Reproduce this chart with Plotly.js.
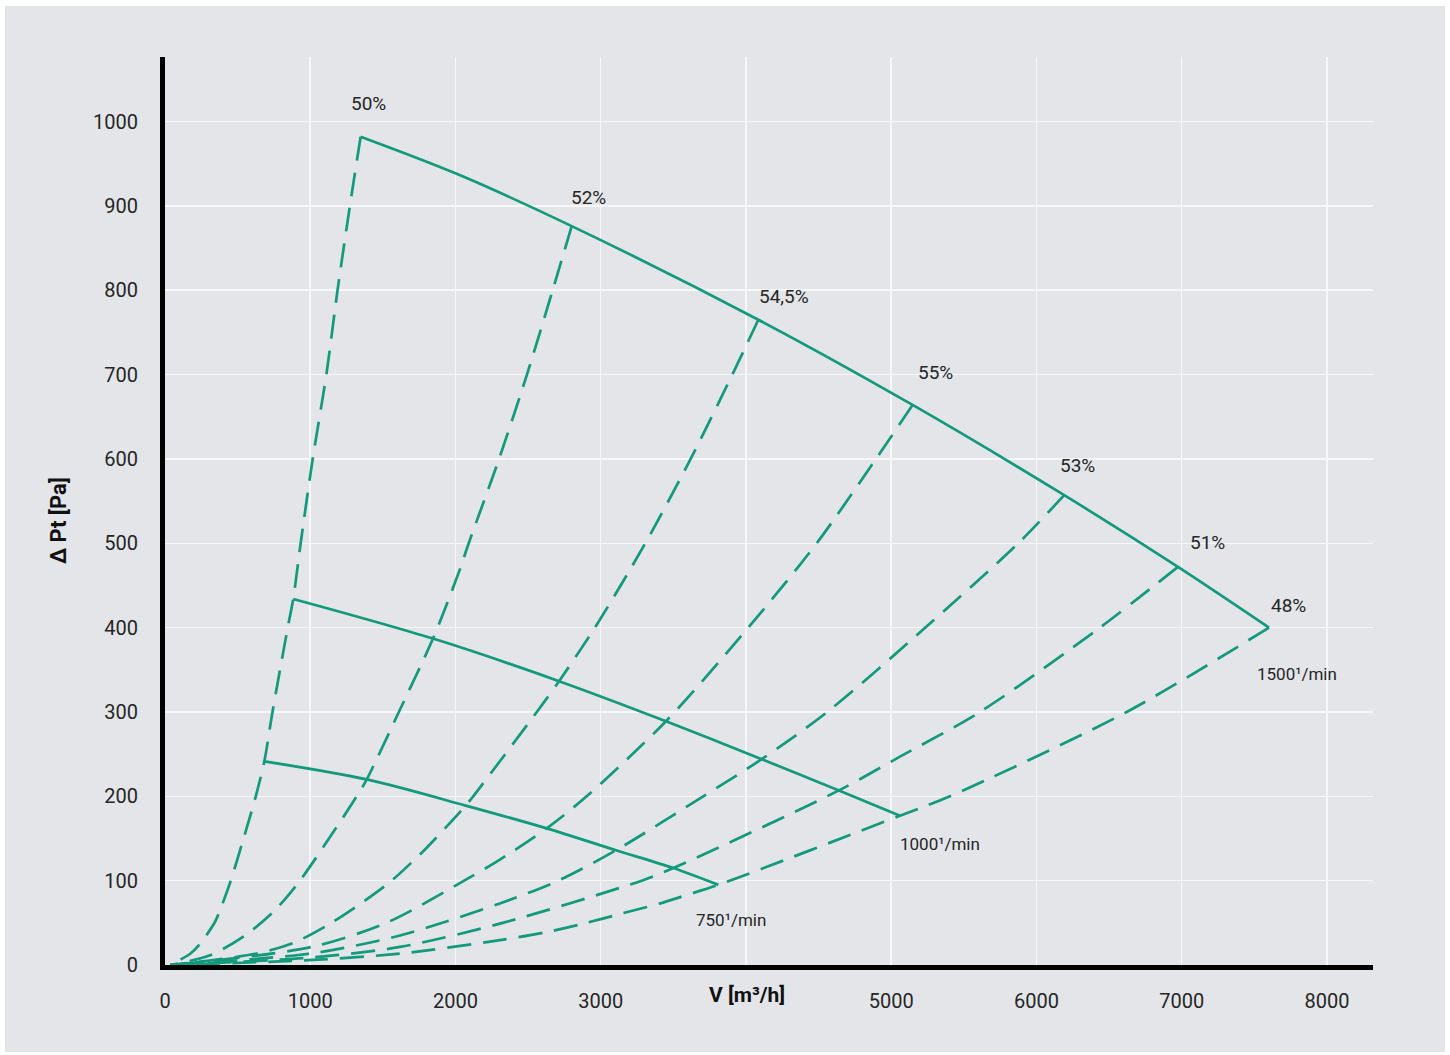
<!DOCTYPE html>
<html><head><meta charset="utf-8">
<script src="https://cdn.plot.ly/plotly-3.0.1.min.js"></script>
<style>
html,body{margin:0;padding:0;background:#ffffff;width:1450px;height:1055px;overflow:hidden}
#chart{position:absolute;left:5px;top:6px;width:1440px;height:1046px}
</style></head><body><div id="chart"></div>
<script>
// ---- data ----
const efficiencyLabels = ['50%', '52%', '54,5%', '55%', '53%', '51%', '48%'];

const sys50X = [35, 57, 172, 241, 344, 379, 447, 558, 625, 684, 740, 845, 883, 934, 1017, 1111, 1188, 1273, 1347];
const sys50Y = [0, 2, 13, 25, 51, 65, 97, 160, 200, 241.5, 300, 400, 434, 500, 600, 700, 800, 900, 982];

const sys52X = [35, 310, 551, 757, 929, 1320, 1389, 1610, 1845, 2026, 2091, 2300, 2492, 2669, 2800];
const sys52Y = [0, 11.5, 35, 65, 100, 200, 220, 300, 387, 467, 500, 600, 700, 800, 876];

const sys545X = [35, 631, 895, 1136, 1365, 1560, 1790, 2070, 2122, 2560, 2713, 2960, 3307, 3619, 3906, 4085];
const sys545Y = [0, 13.5, 27, 49, 75, 100, 137, 189, 200, 300, 336.5, 400, 500, 600, 700, 765];

const sys55X = [35, 1010, 1537, 2060, 2306, 2628, 2903, 3449, 4016, 4487, 4895, 5147];
const sys55Y = [0, 21.4, 51, 100, 125, 162, 200, 289, 400, 500, 600, 664];

const sys53X = [35, 1019, 1618, 2306, 2708, 3105, 3706, 4108, 4560, 5235, 5875, 6191];
const sys53Y = [0, 14, 35, 73, 100, 136, 200, 244, 300, 400, 500, 557];

const sys51X = [35, 1019, 1618, 2306, 3282, 3500, 4640, 5060, 5611, 6437, 6974];
const sys51Y = [0, 9, 21.4, 49, 100, 115, 207, 247, 300, 400, 472];

const sys48X = [35, 1019, 1618, 2306, 2628, 2880, 3144, 3408, 3591, 3810, 5060, 5404, 6621, 7601];
const sys48Y = [0, 6, 13.5, 29.4, 39, 49, 61, 73, 83, 95, 177, 200, 300, 400];

const speedLabels = ['1500¹/min', '1000¹/min', '750¹/min'];
const rpm1500X = [1347, 2008, 2800, 4085, 5147, 6191, 6974, 7601];
const rpm1500Y = [982, 938, 876, 765, 664, 557, 472, 400];
const rpm1000X = [883, 1845, 2713, 3449, 4108, 4640, 5060];
const rpm1000Y = [434, 387, 336.5, 289, 244, 207, 177];
const rpm750X = [684, 1389, 2070, 2628, 3105, 3500, 3810];
const rpm750Y = [241.5, 220, 189, 162, 136, 115, 95];

const xTickVals = [0, 1000, 2000, 3000, 4000, 5000, 6000, 7000, 8000];
const xTickText = ['0', '1000', '2000', '3000', '', '5000', '6000', '7000', '8000'];
const yTickVals = [0, 100, 200, 300, 400, 500, 600, 700, 800, 900, 1000];
const yTickText = ['0', '100', '200', '300', '400', '500', '600', '700', '800', '900', '1000'];
const xTitle = '<b>V [m³/h]</b>';
const yTitle = '<b>Δ Pt [Pa]</b>';

// ---- styling ----
const GREEN = '#13997b';
const FONT = 'Roboto, "Noto Sans", sans-serif';
const TXT = '#262626';

const sysX = [sys50X, sys52X, sys545X, sys55X, sys53X, sys51X, sys48X];
const sysY = [sys50Y, sys52Y, sys545Y, sys55Y, sys53Y, sys51Y, sys48Y];
const effShift = [[8, 33], [17, 29], [26, 23], [23, 32], [13, 30], [30, 24], [19, 22]];
const speedX = [rpm1500X, rpm1000X, rpm750X];
const speedY = [rpm1500Y, rpm1000Y, rpm750Y];
const speedShift = [[28, -46], [40, -28], [13, -35]];

const traces = [];
// dashed system curves are drawn from their upper end so the dash pattern starts at the speed line
sysX.forEach((xs, i) => {
  traces.push({
    x: xs.slice().reverse(), y: sysY[i].slice().reverse(), type: 'scatter', mode: 'lines',
    line: {color: GREEN, width: 2.7, dash: '24px,12px', shape: 'spline', smoothing: 0.8},
    hoverinfo: 'skip', showlegend: false
  });
});
speedX.forEach((xs, i) => {
  traces.push({
    x: xs, y: speedY[i], type: 'scatter', mode: 'lines',
    line: {color: GREEN, width: 2.7, shape: 'spline', smoothing: 0.9},
    hoverinfo: 'skip', showlegend: false
  });
});

const annotations = [];
efficiencyLabels.forEach((t, i) => {
  const xs = sysX[i], ys = sysY[i];
  annotations.push({
    x: xs[xs.length - 1], y: ys[ys.length - 1], xref: 'x', yref: 'y',
    text: t, showarrow: false, xanchor: 'center', yanchor: 'middle',
    xshift: effShift[i][0], yshift: effShift[i][1],
    font: {family: FONT, size: 19, color: TXT}
  });
});
speedLabels.forEach((t, i) => {
  const xs = speedX[i], ys = speedY[i];
  annotations.push({
    x: xs[xs.length - 1], y: ys[ys.length - 1], xref: 'x', yref: 'y',
    text: t, showarrow: false, xanchor: 'center', yanchor: 'middle',
    xshift: speedShift[i][0], yshift: speedShift[i][1],
    font: {family: FONT, size: 17, color: TXT}
  });
});
annotations.push({
  xref: 'paper', yref: 'paper', x: (747 - 165) / 1208, y: (965 - 995) / 908,
  text: xTitle, showarrow: false, xanchor: 'center', yanchor: 'middle',
  font: {family: FONT, size: 21, color: '#111'}
});
annotations.push({
  xref: 'paper', yref: 'paper', x: (58 - 165) / 1208, y: (965 - 521) / 908,
  text: yTitle, showarrow: false, xanchor: 'center', yanchor: 'middle', textangle: -90,
  font: {family: FONT, size: 22, color: '#111'}
});

const layout = {
  width: 1440, height: 1046,
  margin: {l: 160, r: 72, t: 51, b: 87},
  paper_bgcolor: '#e3e5e8', plot_bgcolor: '#e3e5e8',
  showlegend: false, hovermode: false,
  font: {family: FONT, color: TXT},
  xaxis: {
    range: [0, 8317], tickvals: xTickVals, ticktext: xTickText,
    showgrid: true, gridcolor: '#f6f7f8', gridwidth: 1.5,
    zeroline: false, showline: true, linecolor: '#000', linewidth: 5,
    ticks: '', ticklabelstandoff: 14,
    tickfont: {family: FONT, size: 20, color: TXT}, fixedrange: true
  },
  yaxis: {
    range: [0, 1076.5], tickvals: yTickVals, ticktext: yTickText,
    showgrid: true, gridcolor: '#f6f7f8', gridwidth: 1.5,
    zeroline: false, showline: true, linecolor: '#000', linewidth: 5,
    ticks: '', ticklabelstandoff: 18,
    tickfont: {family: FONT, size: 20, color: TXT}, fixedrange: true
  },
  annotations: annotations
};

Plotly.newPlot('chart', traces, layout, {displayModeBar: false, staticPlot: true});
</script></body></html>
